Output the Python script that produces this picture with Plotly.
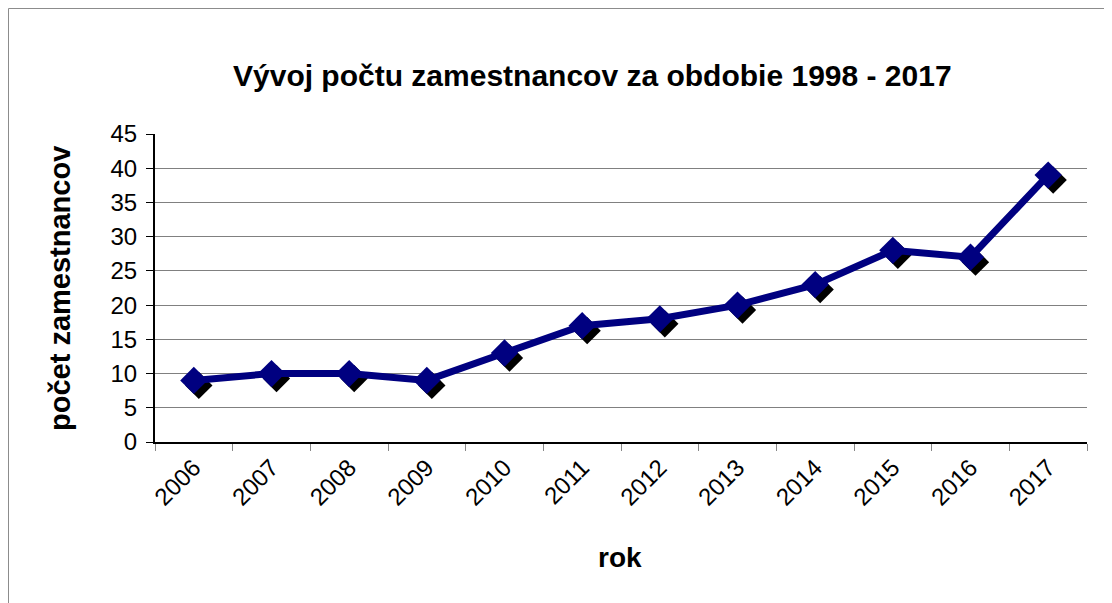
import plotly.graph_objects as go

years = ["2006", "2007", "2008", "2009", "2010", "2011", "2012", "2013", "2014", "2015", "2016", "2017"]
employees = [9, 10, 10, 9, 13, 17, 18, 20, 23, 28, 27, 39]
y_ticks = [0, 5, 10, 15, 20, 25, 30, 35, 40, 45]

title_text = "Vývoj počtu zamestnancov za obdobie 1998 - 2017"
x_title = "rok"
y_title = "počet zamestnancov"

OFF = 8  # page body margin
W, H = 1104, 595
L, T = 155 - OFF, 134 - OFF
R = W - (1087 - OFF)
B = H - (442 - OFF)
plot_w = W - L - R
plot_h = H - T - B
n = len(years)
y_max = 45
shadow_px = 5
dx = shadow_px * n / plot_w
dy = shadow_px * y_max / plot_h

FONT = "Liberation Sans, Arial, sans-serif"
NAVY = "#000080"


def px_x(px):
    return (px - OFF - L) / plot_w


def px_y(py):
    return (H - B - (py - OFF)) / plot_h


fig = go.Figure()

# shadow markers (on hidden, slightly shifted axes)
fig.add_trace(go.Scatter(
    x=years, y=employees, mode="markers",
    marker=dict(symbol="diamond", size=21, color="black", line=dict(width=0)),
    xaxis="x", yaxis="y", hoverinfo="skip", showlegend=False,
))
# main line
fig.add_trace(go.Scatter(
    x=years, y=employees, mode="lines+markers",
    line=dict(color=NAVY, width=7),
    marker=dict(symbol="diamond", size=21, color=NAVY, line=dict(width=0)),
    xaxis="x2", yaxis="y2", showlegend=False,
))

fig.update_layout(
    width=W, height=H,
    margin=dict(l=L, r=R, t=T, b=B),
    paper_bgcolor="white", plot_bgcolor="white",
    font=dict(family=FONT, color="black", size=24),
    xaxis=dict(type="category", range=[-0.5 - dx, n - 0.5 - dx],
               showgrid=False, showticklabels=False, showline=False, ticks="",
               zeroline=False, fixedrange=True),
    yaxis=dict(range=[0 + dy, y_max + dy], showgrid=False, showticklabels=False,
               showline=False, ticks="", zeroline=False, fixedrange=True),
    xaxis2=dict(type="category", overlaying="x", side="bottom",
                range=[-0.5, n - 0.5], tickson="boundaries",
                ticks="outside", ticklen=7, tickcolor="#888888", tickwidth=1,
                showline=True, linecolor="black", linewidth=2,
                showgrid=False, tickangle=-45,
                tickfont=dict(size=24, family=FONT, color="black")),
    yaxis2=dict(overlaying="y", side="left", range=[0, y_max],
                tickvals=y_ticks, ticks="outside", ticklen=7, tickcolor="black",
                showline=True, linecolor="black", linewidth=2,
                showgrid=True, gridcolor="#808080", gridwidth=1, zeroline=False,
                ticklabelstandoff=4,
                tickfont=dict(size=24, family=FONT, color="black")),
)

fig.add_annotation(text="<b>" + title_text + "</b>", xref="paper", yref="paper",
                   x=px_x(592), y=px_y(75), xanchor="center", yanchor="middle",
                   showarrow=False, font=dict(size=30, family=FONT, color="black"))
fig.add_annotation(text="<b>" + x_title + "</b>", xref="paper", yref="paper",
                   x=px_x(620), y=px_y(557), xanchor="center", yanchor="middle",
                   showarrow=False, font=dict(size=28, family=FONT, color="black"))
fig.add_annotation(text="<b>" + y_title + "</b>", xref="paper", yref="paper",
                   x=px_x(60), y=px_y(289), xanchor="center", yanchor="middle",
                   textangle=-90, showarrow=False,
                   font=dict(size=29, family=FONT, color="black"))

# outer chart border (left and top visible)
fig.add_shape(type="rect", xref="paper", yref="paper",
              x0=px_x(8.5), x1=1.5, y0=-1.0, y1=px_y(8.5),
              line=dict(color="#8c8c8c", width=1), fillcolor="rgba(0,0,0,0)",
              layer="below")

fig.write_html("out.html")
